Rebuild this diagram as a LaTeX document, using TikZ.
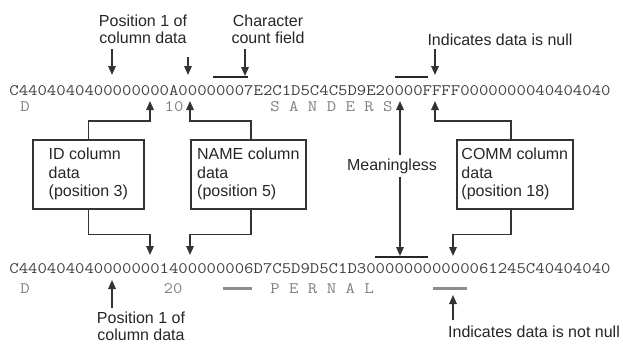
\documentclass[tikz,border=0pt]{standalone}
\usepackage{fontspec}
\setmainfont{Liberation Sans}
\usetikzlibrary{arrows.meta}
% hex dump text: typewriter face widened to a 9.57pt character pitch
\newcommand\dumptext[1]{\scalebox{1.14}[1]{\fontsize{16}{16}\selectfont\ttfamily #1}}
\begin{document}
\begin{tikzpicture}[x=1pt,y=-1pt,
  lbl/.style={font=\fontsize{16}{17}\selectfont, inner sep=0, text=black!85, align=center},
  box/.style={draw=black!80, line width=1.6pt, minimum height=69pt, align=left,
    inner sep=0, font=\fontsize{16}{18.5}\selectfont, anchor=north west, text=black!85},
  conn/.style={draw=black!80, line width=1.6pt, -{Triangle[width=7.5pt,length=9pt]}},
  bar/.style={draw=black!85, line width=1.6pt},
  gbar/.style={draw=black!45, line width=2.8pt},
  hex/.style={inner sep=0, anchor=base west, text=black!75},
  vlabel/.style={inner sep=0, anchor=base, text=black!50},
  vlabelw/.style={inner sep=0, anchor=base west, text=black!50}]
\useasboundingbox (0,0) rectangle (623,343);

% ---- the two rows of the dump
\node[hex] (rowA) at (9.2,95) {\dumptext{C4404040400000000A00000007E2C1D5C4C5D9E20000FFFF0000000040404040}};
\node[hex] (rowB) at (9.2,273) {\dumptext{C4404040400000001400000006D7C5D9D5C1D300000000000061245C40404040}};

% decoded values under the bytes
\node[vlabel] (dA) at (25,111) {\dumptext{D}};
\node[vlabel] (nA) at (174,111) {\dumptext{10}};
\node[vlabelw] (sA) at (270.2,111) {\dumptext{S A N D E R S}};
\node[vlabel] (dB) at (25,293) {\dumptext{D}};
\node[vlabel] (nB) at (173,293) {\dumptext{20}};
\node[vlabelw] (sB) at (270.2,293) {\dumptext{P E R N A L}};

% ---- annotations above the first row
\node[lbl, anchor=north] (posA) at (143,14.3) {Position 1 of\\column data};
\node[lbl, anchor=north] (cnt) at (268,14.3) {Character\\count field};
\node[lbl, anchor=base] (nul) at (500,45) {Indicates data is null};

\coordinate (posAs) at (112,49);  \coordinate (posAt) at (112,75);
\coordinate (nmAs)  at (188,57);  \coordinate (nmAt)  at (188,75);
\coordinate (cntS)  at (245,49);  \coordinate (cntT)  at (245,76);
\coordinate (nulS)  at (435,49);  \coordinate (nulT)  at (435,75);
\draw[conn] (posAs) -- (posAt);
\draw[conn] (nmAs) -- (nmAt);
\draw[conn] (cntS) -- (cntT);
\draw[conn] (nulS) -- (nulT);
\draw[bar] (213,77) -- (248,77);
\draw[bar] (395,77) -- (428,77);

% ---- column boxes
\node[box, minimum width=111pt] (idb) at (32,139) {ID column\\data\\(position 3)};
\node[box, minimum width=115pt] (nameb) at (190,139) {NAME column\\data\\(position 5)};
\node[box, minimum width=116pt] (commb) at (456,139) {COMM column\\data\\(position 18)};

\coordinate (idT) at (150,101);   \coordinate (idB) at (150,255);
\coordinate (nameT) at (190,101); \coordinate (nameB) at (190,255);
\coordinate (commT) at (435,101); \coordinate (commB) at (453,256);

\draw[conn] (idb.north) -- ++(0,-18) -| (idT);
\draw[conn] (idb.south) -- ++(0,25) -| (idB);
\draw[conn] ([xshift=2.5pt]nameb.north) -- ++(0,-18) -| (nameT);
\draw[conn] ([xshift=2.5pt]nameb.south) -- ++(0,25) -| (nameB);
\draw[conn] ([xshift=-4pt]commb.north) -- ++(0,-18) -| (commT);
\draw[conn] ([xshift=-4pt]commb.south) -- ++(0,25) -| (commB);

% ---- padding bytes of the name column
\node[lbl, anchor=base, fill=white, inner xsep=0, inner ysep=3pt] (mean) at (392,170) {Meaningless};
\coordinate (meanT) at (400,101);
\coordinate (meanB) at (400,256);
\draw[conn] (meanT |- mean.north) -- (meanT);
\draw[conn] (meanB |- mean.south) -- (meanB);
\draw[bar] (375,257) -- (428,257);

% ---- annotations below the second row
\draw[gbar] (223,288.5) -- (252,288.5);
\draw[gbar] (433,288.5) -- (467,288.5);

\node[lbl, anchor=north] (posB) at (141,311.8) {Position 1 of\\column data};
\node[lbl, anchor=base] (nnul) at (534,337) {Indicates data is not null};
\coordinate (posBs) at (112,308); \coordinate (posBt) at (112,280);
\coordinate (nnS) at (453,320);   \coordinate (nnT) at (453,295);
\draw[conn] (posBs) -- (posBt);
\draw[conn] (nnS) -- (nnT);
\end{tikzpicture}
\end{document}
